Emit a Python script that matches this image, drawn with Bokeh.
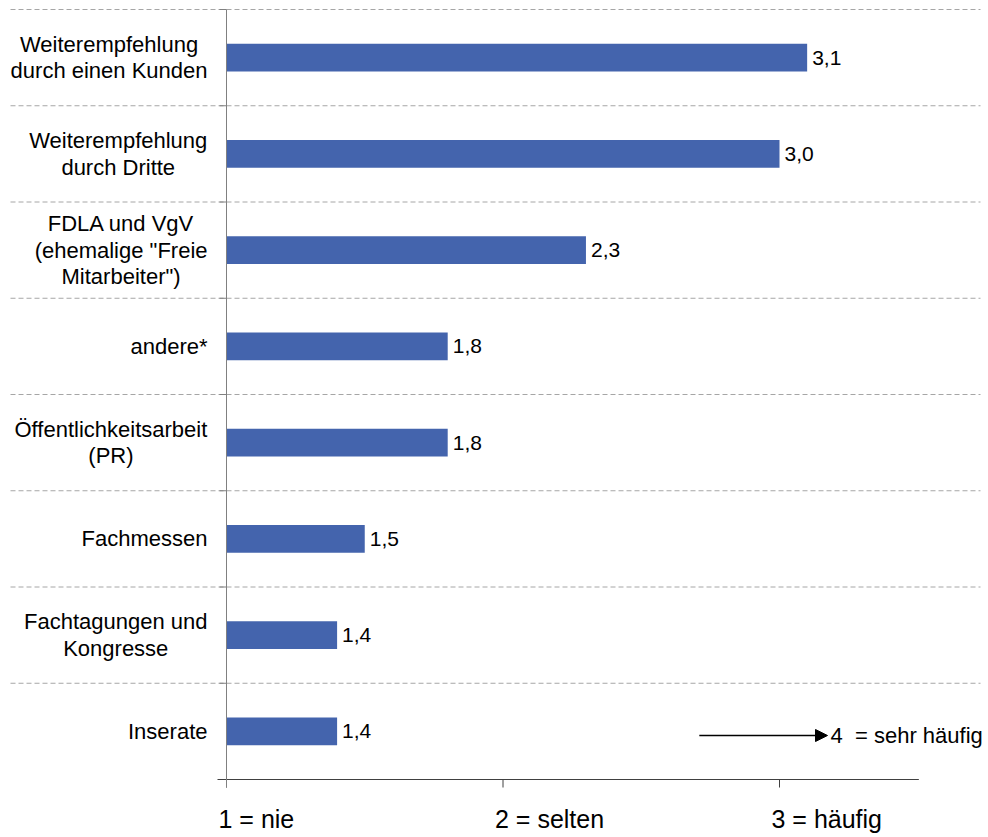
from bokeh.plotting import figure
from bokeh.models import ColumnDataSource, Range1d, Arrow, NormalHead
from bokeh.core.properties import value
from bokeh.embed import file_html
from bokeh.resources import INLINE

# ---------------- data ----------------
categories = [
    "Weiterempfehlung\ndurch einen Kunden",
    "Weiterempfehlung\ndurch Dritte",
    "FDLA und VgV\n(ehemalige \"Freie\nMitarbeiter\")",
    "andere*",
    "Öffentlichkeitsarbeit\n(PR)",
    "Fachmessen",
    "Fachtagungen und\nKongresse",
    "Inserate",
]
values = [3.1, 3.0, 2.3, 1.8, 1.8, 1.5, 1.4, 1.4]
value_labels = ["3,1", "3,0", "2,3", "1,8", "1,8", "1,5", "1,4", "1,4"]
tick_values = [1, 2, 3]
tick_labels = ["1 = nie", "2 = selten", "3 = häufig"]
note_text = "4\u00a0 = sehr häufig"

# ---------------- layout / style ----------------
W, H = 988, 837
PX_X = 276.5      # pixels per x unit
X1_PX = 226       # pixel of x = 1
PX_Y = 96.25      # pixels per category band
Y0_PX = 779       # pixel of the category-area bottom
FONT = "Liberation Sans"
BAR_COLOR = "#4464ad"
BAR_HEIGHT = 0.29
CAT_FONT = 22
VAL_FONT = 21
NOTE_FONT = 22
TICK_FONT = 25
LINE_GAP = 26.5   # px between label lines
LABEL_RIGHT = 1 - 19 / PX_X
GRID_X0 = 1 - 216 / PX_X
GRID_X1 = 1 + 754 / PX_X
AXIS_X0 = 1 - 9 / PX_X
AXIS_X1 = 3.504
YTICK_X0 = 1 - 7 / PX_X
TICK_LEN = 8 / PX_Y
TICK_LABEL_Y = -39 / PX_Y
NOTE_Y = 0.457
ARROW_X0 = 2.71
ARROW_X1 = 3.1736
NOTE_X = 3.1845

# Arial / Liberation Sans advance widths (1/1000 em)
AW = {' ': 278, '"': 355, '(': 333, ')': 333, '*': 389, ',': 278,
      'a': 556, 'b': 556, 'c': 500, 'd': 556, 'e': 556, 'f': 278, 'g': 556,
      'h': 556, 'i': 222, 'j': 222, 'k': 500, 'l': 222, 'm': 833, 'n': 556,
      'o': 556, 'p': 556, 'q': 556, 'r': 333, 's': 500, 't': 278, 'u': 556,
      'v': 500, 'w': 722, 'x': 500, 'y': 500, 'z': 500, 'ä': 556, 'ö': 556,
      'A': 667, 'B': 667, 'C': 722, 'D': 722, 'E': 667, 'F': 611, 'G': 778,
      'H': 722, 'I': 278, 'K': 667, 'L': 556, 'M': 833, 'N': 722, 'O': 778,
      'P': 667, 'R': 722, 'S': 667, 'T': 611, 'U': 722, 'V': 667, 'W': 944,
      'Ö': 778}


def text_w(s, size):
    return sum(AW.get(c, 556) for c in s) * size / 1000.0


n = len(categories)
centers = [n - 0.5 - i for i in range(n)]
boundaries = list(range(1, n + 1))

p = figure(width=W, height=H,
           x_range=Range1d(1 - X1_PX / PX_X, 1 + (W - X1_PX) / PX_X),
           y_range=Range1d(-(H - Y0_PX) / PX_Y, Y0_PX / PX_Y),
           x_axis_location=None, y_axis_location=None,
           toolbar_location=None, output_backend="svg", min_border=0)
p.outline_line_color = None
p.background_fill_color = "white"
p.xgrid.visible = False
p.ygrid.visible = False

# dashed separators
p.segment(x0=[GRID_X0] * n, x1=[GRID_X1] * n, y0=boundaries, y1=boundaries,
          line_color="#a6a6a6", line_width=1, line_dash="5 3")

# bars
src = ColumnDataSource(dict(y=centers, right=values, lab=value_labels))
p.hbar(y="y", left=1, right="right", height=BAR_HEIGHT, source=src,
       fill_color=BAR_COLOR, line_color=None)
p.text(x="right", y="y", text="lab", source=src, x_offset=5,
       text_align="left", text_baseline="middle",
       text_font=value(FONT), text_font_size=f"{VAL_FONT}px", text_color="black")

# category labels (block right aligned, lines centred)
lx, ly, lt, lxo, lyo = [], [], [], [], []
for c, yc in zip(categories, centers):
    lines = c.split("\n")
    maxw = max(text_w(s, CAT_FONT) for s in lines)
    for k, s in enumerate(lines):
        lx.append(LABEL_RIGHT)
        ly.append(yc)
        lt.append(s)
        lxo.append(-maxw / 2)
        lyo.append((k - (len(lines) - 1) / 2) * LINE_GAP)
p.text(x="x", y="y", text="t", x_offset="xo", y_offset="yo",
       source=ColumnDataSource(dict(x=lx, y=ly, t=lt, xo=lxo, yo=lyo)),
       text_align="center", text_baseline="middle",
       text_font=value(FONT), text_font_size=f"{CAT_FONT}px", text_color="black")

# x axis line, ticks and labels
p.segment(x0=[AXIS_X0], x1=[AXIS_X1], y0=[0], y1=[0], line_color="#404040", line_width=1)
p.segment(x0=tick_values, x1=tick_values, y0=[0] * 3, y1=[-TICK_LEN] * 3,
          line_color="#404040", line_width=1)
p.text(x=tick_values, y=[TICK_LABEL_Y] * 3, text=tick_labels, x_offset=-8,
       text_align="left", text_baseline="middle",
       text_font=value(FONT), text_font_size=f"{TICK_FONT}px", text_color="black")

# y axis line and ticks
p.segment(x0=[YTICK_X0] * n, x1=[1] * n, y0=boundaries, y1=boundaries,
          line_color="#808080", line_width=1)
p.segment(x0=[1], x1=[1], y0=[-TICK_LEN], y1=[n], line_color="#808080", line_width=1)

# note with arrow
p.add_layout(Arrow(x_start=ARROW_X0, y_start=NOTE_Y, x_end=ARROW_X1, y_end=NOTE_Y,
                   line_color="black", line_width=1.7,
                   end=NormalHead(size=12, fill_color="black", line_color="black",
                                  line_width=1)))
p.text(x=[NOTE_X], y=[NOTE_Y], text=[note_text], text_align="left",
       text_baseline="middle", text_font=value(FONT),
       text_font_size=f"{NOTE_FONT}px", text_color="black")

open("out.html", "w").write(file_html(p, INLINE))
